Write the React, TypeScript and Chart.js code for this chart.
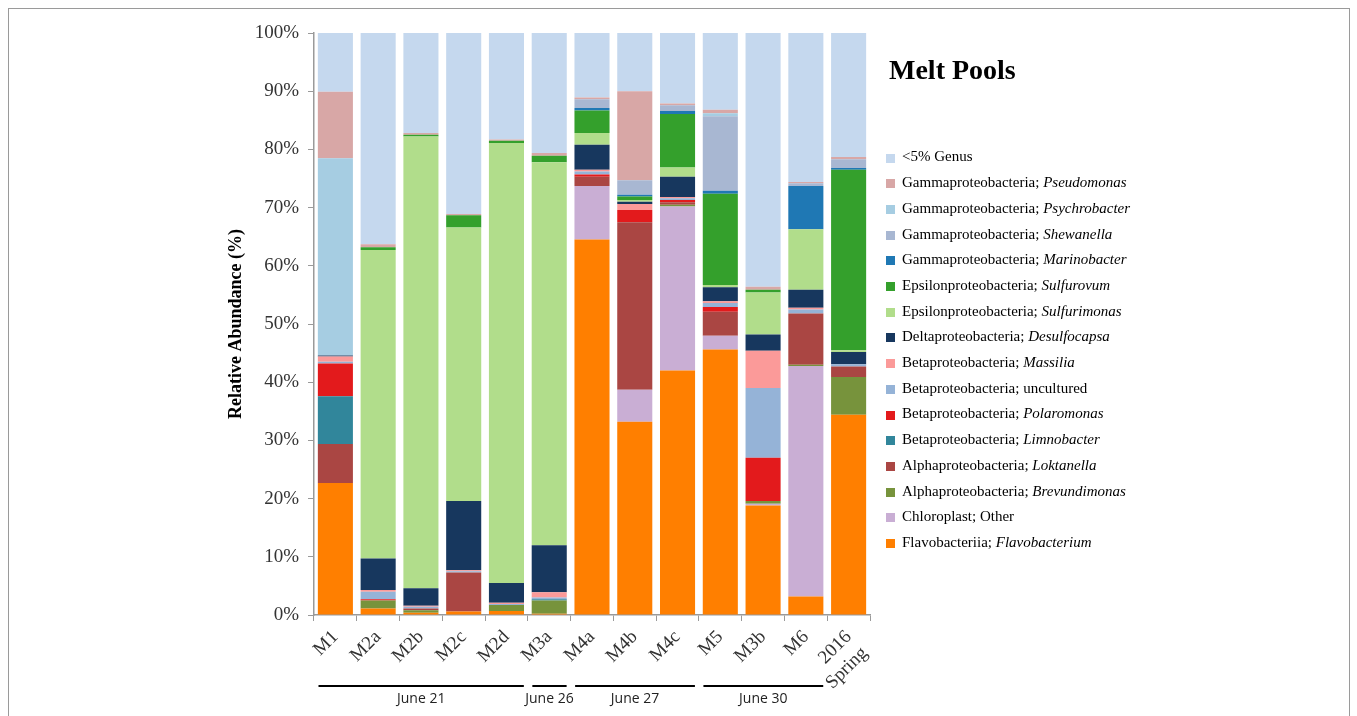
import React, { useEffect, useRef } from 'react';
import { Chart, registerables } from 'chart.js';

Chart.register(...registerables);

// ---------- data ----------
const categories: (string | string[])[] = ['M1', 'M2a', 'M2b', 'M2c', 'M2d', 'M3a', 'M4a', 'M4b', 'M4c', 'M5', 'M3b', 'M6', ['2016', 'Spring']];

// stacked from bottom to top, values in % per category
const flavobacterium = [22.7, 1.1, 0.4, 0.6, 0.7, 0.2, 64.5, 33.2, 42.0, 45.6, 18.8, 3.2, 34.4];
const chloroplast = [0, 0, 0, 0, 0, 0, 9.2, 5.5, 28.2, 2.4, 0.3, 39.6, 0];
const brevundimonas = [0, 1.4, 0.4, 0, 1.0, 2.3, 0, 0, 0.3, 0, 0.5, 0.2, 6.5];
const loktanella = [6.7, 0, 0.3, 6.7, 0, 0, 1.6, 28.8, 0.4, 4.1, 0, 8.8, 1.8];
const limnobacter = [8.2, 0, 0, 0, 0, 0.2, 0, 0, 0, 0, 0, 0, 0];
const polaromonas = [5.6, 0.2, 0, 0, 0, 0, 0.4, 2.1, 0.4, 0.8, 7.4, 0, 0];
const uncultured = [0.3, 1.3, 0.3, 0.2, 0.2, 0.3, 0.5, 0, 0.3, 0.7, 12.0, 0.7, 0.4];
const massilia = [0.9, 0.3, 0.2, 0.2, 0.2, 0.9, 0.3, 1.0, 0.2, 0.3, 6.4, 0.3, 0];
const desulfocapsa = [0.2, 5.4, 3.0, 11.9, 3.4, 8.1, 4.3, 0.4, 3.5, 2.4, 2.8, 3.1, 2.1];
const sulfurimonas = [0, 53.0, 77.6, 47.0, 75.6, 65.8, 2.0, 0.3, 1.6, 0.4, 7.2, 10.4, 0.3];
const sulfurovum = [0, 0.5, 0.3, 2.1, 0.4, 1.1, 3.9, 0.6, 9.2, 15.7, 0.5, 0, 31.0];
const marinobacter = [0, 0, 0, 0, 0, 0, 0.4, 0.3, 0.5, 0.5, 0, 7.4, 0.3];
const shewanella = [0, 0, 0, 0, 0, 0, 1.5, 2.5, 1.0, 12.8, 0, 0.5, 1.5];
const psychrobacter = [33.9, 0, 0, 0, 0, 0, 0, 0, 0, 0.5, 0, 0, 0];
const pseudomonas = [11.4, 0.5, 0.3, 0.2, 0.2, 0.5, 0.3, 15.3, 0.3, 0.6, 0.5, 0.2, 0.4];
const lowGenus = [10.1, 36.3, 17.2, 31.1, 18.3, 20.6, 11.1, 10.0, 12.1, 13.2, 43.6, 25.6, 21.3];

const yTickValues = [0, 10, 20, 30, 40, 50, 60, 70, 80, 90, 100];

const groupNames = ['June 21', 'June 26', 'June 27', 'June 30'];
const groupFirst = [0, 5, 6, 9];
const groupLast = [4, 5, 8, 11];

const chartTitle = 'Melt Pools';
const yAxisTitle = 'Relative Abundance (%)';

// series table (bottom to top)
const series = [
  { cls: 'Flavobacteriia; ', genus: 'Flavobacterium', italic: true, color: '#ff7f00', data: flavobacterium },
  { cls: 'Chloroplast; ', genus: 'Other', italic: false, color: '#c9aed4', data: chloroplast },
  { cls: 'Alphaproteobacteria; ', genus: 'Brevundimonas', italic: true, color: '#77933c', data: brevundimonas },
  { cls: 'Alphaproteobacteria; ', genus: 'Loktanella', italic: true, color: '#aa4643', data: loktanella },
  { cls: 'Betaproteobacteria; ', genus: 'Limnobacter', italic: true, color: '#31869b', data: limnobacter },
  { cls: 'Betaproteobacteria; ', genus: 'Polaromonas', italic: true, color: '#e31a1c', data: polaromonas },
  { cls: 'Betaproteobacteria; ', genus: 'uncultured', italic: false, color: '#95b3d7', data: uncultured },
  { cls: 'Betaproteobacteria; ', genus: 'Massilia', italic: true, color: '#fb9a99', data: massilia },
  { cls: 'Deltaproteobacteria; ', genus: 'Desulfocapsa', italic: true, color: '#17375e', data: desulfocapsa },
  { cls: 'Epsilonproteobacteria; ', genus: 'Sulfurimonas', italic: true, color: '#b1dd8b', data: sulfurimonas },
  { cls: 'Epsilonproteobacteria; ', genus: 'Sulfurovum', italic: true, color: '#34a02c', data: sulfurovum },
  { cls: 'Gammaproteobacteria; ', genus: 'Marinobacter', italic: true, color: '#1f78b4', data: marinobacter },
  { cls: 'Gammaproteobacteria; ', genus: 'Shewanella', italic: true, color: '#a8b7d2', data: shewanella },
  { cls: 'Gammaproteobacteria; ', genus: 'Psychrobacter', italic: true, color: '#a6cde2', data: psychrobacter },
  { cls: 'Gammaproteobacteria; ', genus: 'Pseudomonas', italic: true, color: '#d8a7a6', data: pseudomonas },
  { cls: '<5% Genus', genus: '', italic: false, color: '#c5d8ee', data: lowGenus },
];

const SERIF = '"Liberation Serif", "Times New Roman", serif';
const CANVAS_W = 1339;
const CANVAS_H = 707;

const groupPlugin = {
  id: 'dateGroups',
  afterDraw(chart: any) {
    const x = chart.scales.x;
    const ctx = chart.ctx as CanvasRenderingContext2D;
    const half = (x.getPixelForValue(1) - x.getPixelForValue(0)) / 2;
    const lineY = 677;
    ctx.save();
    groupNames.forEach((name, g) => {
      const a = x.getPixelForValue(groupFirst[g]) - half + 4.5;
      const b = x.getPixelForValue(groupLast[g]) + half - 4;
      ctx.strokeStyle = '#000';
      ctx.lineWidth = 2;
      ctx.beginPath();
      ctx.moveTo(a, lineY);
      ctx.lineTo(b, lineY);
      ctx.stroke();
      ctx.fillStyle = '#222';
      ctx.font = '14px "Open Sans", sans-serif';
      ctx.textAlign = 'center';
      ctx.textBaseline = 'middle';
      ctx.fillText(name, (a + b) / 2, lineY + 13);
    });
    ctx.restore();
  },
};

export default function App() {
  const ref = useRef<HTMLCanvasElement | null>(null);

  useEffect(() => {
    if (!ref.current) return;
    const chart = new Chart(ref.current, {
      type: 'bar',
      data: {
        labels: categories as any,
        datasets: series.map((s) => ({
          label: s.cls + s.genus,
          data: s.data,
          backgroundColor: s.color,
          borderWidth: 0,
          barPercentage: 0.82,
          categoryPercentage: 1,
        })),
      },
      options: {
        responsive: false,
        animation: false,
        devicePixelRatio: 1,
        layout: { padding: { left: 205, right: 478, top: 24, bottom: 21 } },
        plugins: { legend: { display: false }, tooltip: { enabled: false }, title: { display: false } },
        scales: {
          x: {
            stacked: true,
            offset: true,
            grid: { display: true, drawOnChartArea: false, drawTicks: true, tickLength: 6, color: '#9a9a9a', offset: true },
            border: { display: true, color: '#9a9a9a', width: 1.5 },
            ticks: {
              autoSkip: false,
              maxRotation: 45,
              minRotation: 45,
              padding: 5,
              color: '#333',
              font: { family: SERIF, size: 19 },
            },
            afterFit: (scale: any) => {
              scale.height = 80;
            },
          },
          y: {
            stacked: true,
            min: 0,
            max: 100,
            afterBuildTicks: (scale: any) => {
              scale.ticks = yTickValues.map((v) => ({ value: v }));
            },
            grid: { display: true, drawOnChartArea: false, drawTicks: true, tickLength: 6, color: '#9a9a9a' },
            border: { display: true, color: '#9a9a9a', width: 1.5 },
            ticks: {
              padding: 9,
              color: '#333',
              font: { family: SERIF, size: 19 },
              callback: (v: any) => v + '%',
            },
            title: {
              display: true,
              text: yAxisTitle,
              color: '#000',
              font: { family: SERIF, size: 18, weight: 'bold' },
              padding: { top: 12, bottom: 0 },
            },
            afterFit: (scale: any) => {
              scale.width = 100;
            },
          },
        },
      },
      plugins: [groupPlugin],
    });
    return () => chart.destroy();
  }, []);

  const legendRows = series.slice().reverse();

  return (
    <div
      style={{
        position: 'fixed',
        left: 8,
        top: 8,
        width: 1342,
        height: 720,
        border: '1px solid #9a9a9a',
        boxSizing: 'border-box',
        background: '#fff',
        overflow: 'hidden',
      }}
    >
      <canvas ref={ref} width={CANVAS_W} height={CANVAS_H} style={{ position: 'absolute', left: 0, top: 0, width: CANVAS_W, height: CANVAS_H, display: 'block' }} />
      <div
        style={{
          position: 'absolute',
          left: 880,
          top: 46.5,
          fontFamily: SERIF,
          fontSize: 28,
          lineHeight: '28px',
          fontWeight: 'bold',
          color: '#000',
          whiteSpace: 'nowrap',
        }}
      >
        {chartTitle}
      </div>
      {legendRows.map((s, i) => (
        <React.Fragment key={i}>
          <div
            style={{
              position: 'absolute',
              left: 877,
              top: 144.5 + i * 25.7,
              width: 9,
              height: 9,
              background: s.color,
            }}
          />
          <div
            style={{
              position: 'absolute',
              left: 893,
              top: 137.4 + i * 25.7,
              height: 20,
              lineHeight: '20px',
              fontFamily: SERIF,
              fontSize: 15,
              color: '#000',
              whiteSpace: 'nowrap',
            }}
          >
            {s.cls}
            {s.genus ? (s.italic ? <i>{s.genus}</i> : <span>{s.genus}</span>) : null}
          </div>
        </React.Fragment>
      ))}
    </div>
  );
}
